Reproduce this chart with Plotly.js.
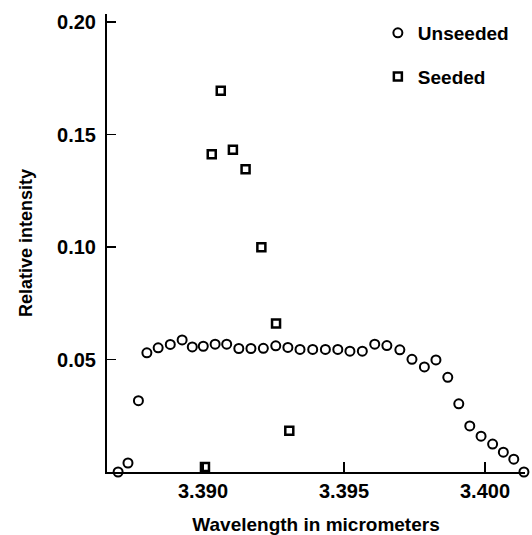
<!DOCTYPE html>
<html>
<head>
<meta charset="utf-8">
<script src="https://cdn.plot.ly/plotly-3.0.1.min.js"></script>
<style>html,body{margin:0;padding:0;background:#fff;}#chart{width:532px;height:535px;}</style>
</head>
<body>
<div id="chart"></div>
<script>
// Unseeded (circles)
const unseededX = [3.38699, 3.38734, 3.38771, 3.38801, 3.38841, 3.38884, 3.38926, 3.38962, 3.39001, 3.39043,
  3.39084, 3.39127, 3.39170, 3.39214, 3.39258, 3.39301, 3.39344, 3.39389, 3.39434, 3.39478,
  3.39521, 3.39565, 3.39609, 3.39652, 3.39698, 3.39741, 3.39785, 3.39826, 3.39868, 3.39907,
  3.39946, 3.39986, 3.40027, 3.40065, 3.40102, 3.40138];
const unseededY = [0.0000, 0.0040, 0.0317, 0.0530, 0.0552, 0.0567, 0.0587, 0.0556, 0.0559, 0.0568,
  0.0568, 0.0549, 0.0549, 0.0550, 0.0561, 0.0554, 0.0545, 0.0545, 0.0545, 0.0545,
  0.0537, 0.0537, 0.0568, 0.0562, 0.0543, 0.0501, 0.0467, 0.0498, 0.0421, 0.0303,
  0.0205, 0.0159, 0.0124, 0.0088, 0.0057, 0.0000];
// Seeded (squares)
const seededX = [3.39007, 3.39031, 3.39063, 3.39106, 3.39151, 3.39207, 3.39259, 3.39306];
const seededY = [0.0022, 0.1413, 0.1695, 0.1433, 0.1346, 0.0999, 0.0660, 0.0183];
const seriesNames = ["Unseeded", "Seeded"];
const xTicks = [3.390, 3.395, 3.400];
const yTicks = [0.05, 0.10, 0.15, 0.20];

const fontFam = '"Liberation Sans", Arial, Helvetica, sans-serif';

const traces = [
  {x: unseededX, y: unseededY, name: seriesNames[0], type: 'scatter', mode: 'markers',
   legendgroup: 'a', cliponaxis: false,
   marker: {symbol: 'circle-open', size: 9, color: '#000', line: {width: 2, color: '#000'}}},
  {x: seededX, y: seededY, name: seriesNames[1], type: 'scatter', mode: 'markers',
   legendgroup: 'b', cliponaxis: false,
   marker: {symbol: 'square-open', size: 8, color: '#000', line: {width: 2.5, color: '#000'}}}
];

const layout = {
  width: 532, height: 535,
  margin: {l: 107, r: 7, t: 14, b: 63},
  paper_bgcolor: '#fff', plot_bgcolor: '#fff',
  font: {family: fontFam, color: '#000', size: 19, weight: 'bold'},
  showlegend: true,
  legend: {x: 0.648, y: 1.0, xanchor: 'left', yanchor: 'top', bgcolor: 'rgba(0,0,0,0)',
           font: {size: 19, weight: 'bold', family: fontFam}, tracegroupgap: 16, traceorder: 'grouped'},
  xaxis: {
    range: [3.386596, 3.401418],
    tickvals: xTicks, tickformat: '.3f',
    ticks: 'inside', ticklen: 10, tickwidth: 1.5, tickcolor: '#000',
    showline: true, linewidth: 2, linecolor: '#000', mirror: false,
    showgrid: false, zeroline: false,
    tickfont: {size: 20, weight: 'bold', family: fontFam},
    title: {text: 'Wavelength in micrometers', font: {size: 19, weight: 'bold', family: fontFam}, standoff: 21}
  },
  yaxis: {
    range: [0, 0.2036],
    tickvals: yTicks, tickformat: '.2f',
    ticks: 'inside', ticklen: 9, tickwidth: 1.5, tickcolor: '#000',
    showline: true, linewidth: 2, linecolor: '#000', mirror: false,
    showgrid: false, zeroline: false,
    ticklabelstandoff: 5,
    tickfont: {size: 20, weight: 'bold', family: fontFam},
    title: {text: 'Relative intensity', font: {size: 18, weight: 'bold', family: fontFam}, standoff: 20}
  }
};

Plotly.newPlot('chart', traces, layout, {displayModeBar: false, staticPlot: true});
</script>
</body>
</html>
